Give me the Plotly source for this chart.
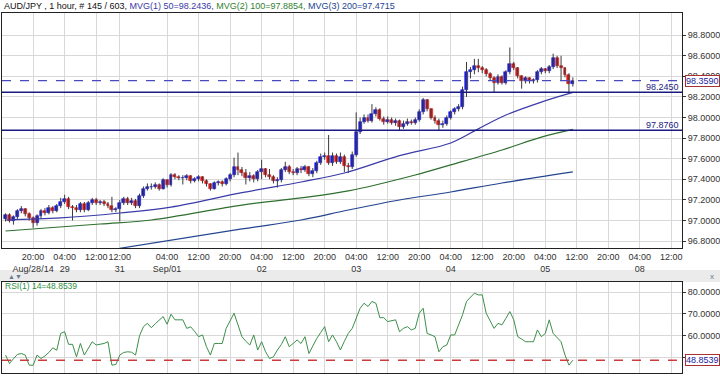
import plotly.graph_objects as go

# ---------------- data ----------------
bar_index = list(range(145))

opens = [
97.01, 97.05, 97.00, 97.03, 97.09, 97.11, 97.06, 97.02, 96.98, 97.04,
97.09, 97.07, 97.12, 97.09, 97.14, 97.18, 97.21, 97.13, 97.12, 97.10,
97.16, 97.10, 97.17, 97.20, 97.17, 97.18, 97.16, 97.14, 97.10, 97.11,
97.17, 97.21, 97.17, 97.19, 97.14, 97.24, 97.31, 97.33, 97.33, 97.34,
97.31, 97.39, 97.34, 97.44, 97.42, 97.41, 97.41, 97.43, 97.38, 97.40,
97.42, 97.38, 97.35, 97.31, 97.36, 97.37, 97.35, 97.40, 97.44, 97.52,
97.49, 97.46, 97.41, 97.43, 97.40, 97.47, 97.50, 97.44, 97.42, 97.38,
97.39, 97.49, 97.52, 97.47, 97.46, 97.50, 97.49, 97.52, 97.45, 97.48,
97.56, 97.62, 97.63, 97.56, 97.63, 97.57, 97.62, 97.53, 97.52, 97.64,
97.86, 97.96, 98.00, 97.97, 98.03, 98.07, 97.99, 97.96, 97.98, 97.95,
97.97, 97.91, 97.94, 97.96, 97.95, 97.98, 98.05, 98.17, 98.08, 98.00,
97.97, 97.93, 97.94, 98.00, 98.05, 98.08, 98.10, 98.27, 98.44, 98.46,
98.50, 98.48, 98.46, 98.42, 98.38, 98.34, 98.39, 98.34, 98.44, 98.52,
98.48, 98.40, 98.35, 98.38, 98.35, 98.36, 98.44, 98.47, 98.45, 98.49,
98.58, 98.50, 98.48, 98.41, 98.33]

closes = [
97.05, 97.00, 97.03, 97.09, 97.11, 97.06, 97.02, 96.98, 97.04, 97.09,
97.07, 97.12, 97.09, 97.14, 97.18, 97.21, 97.13, 97.12, 97.10, 97.16,
97.10, 97.17, 97.20, 97.17, 97.18, 97.16, 97.14, 97.10, 97.11, 97.17,
97.21, 97.17, 97.19, 97.14, 97.24, 97.31, 97.33, 97.33, 97.34, 97.31,
97.39, 97.34, 97.44, 97.42, 97.41, 97.41, 97.43, 97.38, 97.40, 97.42,
97.38, 97.35, 97.31, 97.36, 97.37, 97.35, 97.40, 97.44, 97.52, 97.49,
97.46, 97.41, 97.43, 97.40, 97.47, 97.50, 97.44, 97.42, 97.38, 97.39,
97.49, 97.52, 97.47, 97.46, 97.50, 97.49, 97.52, 97.45, 97.48, 97.56,
97.62, 97.63, 97.56, 97.63, 97.57, 97.62, 97.53, 97.52, 97.64, 97.86,
97.96, 98.00, 97.97, 98.03, 98.07, 97.99, 97.96, 97.98, 97.95, 97.97,
97.91, 97.94, 97.96, 97.95, 97.98, 98.05, 98.17, 98.08, 98.00, 97.97,
97.93, 97.94, 98.00, 98.05, 98.08, 98.10, 98.27, 98.44, 98.46, 98.50,
98.48, 98.46, 98.42, 98.38, 98.34, 98.39, 98.34, 98.44, 98.52, 98.48,
98.40, 98.35, 98.38, 98.35, 98.36, 98.44, 98.47, 98.45, 98.49, 98.58,
98.50, 98.48, 98.41, 98.33, 98.359]

highs = [
97.07, 97.07, 97.05, 97.11, 97.14, 97.12, 97.08, 97.04, 97.06, 97.11,
97.12, 97.15, 97.14, 97.16, 97.22, 97.25, 97.23, 97.15, 97.15, 97.18,
97.18, 97.19, 97.22, 97.22, 97.20, 97.20, 97.18, 97.23, 97.13, 97.20,
97.23, 97.23, 97.22, 97.21, 97.26, 97.33, 97.36, 97.36, 97.37, 97.36,
97.41, 97.40, 97.46, 97.46, 97.44, 97.44, 97.45, 97.44, 97.42, 97.44,
97.43, 97.40, 97.36, 97.38, 97.39, 97.39, 97.42, 97.46, 97.61, 97.66,
97.52, 97.50, 97.47, 97.45, 97.49, 97.59, 97.51, 97.50, 97.44, 97.42,
97.51, 97.57, 97.54, 97.50, 97.52, 97.53, 97.54, 97.53, 97.51, 97.58,
97.65, 97.66, 97.83, 97.66, 97.65, 97.66, 97.64, 97.56, 97.67, 98.05,
98.00, 98.03, 98.03, 98.13, 98.10, 98.09, 98.01, 98.01, 98.00, 97.99,
97.98, 97.97, 97.99, 97.98, 98.00, 98.08, 98.19, 98.18, 98.09, 98.02,
97.99, 97.97, 98.02, 98.07, 98.10, 98.13, 98.30, 98.54, 98.49, 98.57,
98.57, 98.50, 98.48, 98.44, 98.40, 98.42, 98.41, 98.46, 98.68, 98.54,
98.49, 98.41, 98.40, 98.39, 98.38, 98.46, 98.49, 98.48, 98.51, 98.62,
98.60, 98.60, 98.49, 98.43, 98.39]

lows = [
96.99, 96.98, 96.96, 97.01, 97.07, 97.04, 97.00, 96.93, 96.95, 97.02,
97.05, 97.06, 97.07, 97.08, 97.12, 97.16, 97.11, 97.00, 97.08, 97.08,
97.08, 97.09, 97.15, 97.15, 97.15, 97.14, 97.12, 97.08, 97.08, 96.99,
97.15, 97.15, 97.15, 97.12, 97.12, 97.22, 97.29, 97.30, 97.31, 97.29,
97.30, 97.32, 97.33, 97.40, 97.39, 97.35, 97.39, 97.36, 97.37, 97.38,
97.36, 97.33, 97.29, 97.30, 97.34, 97.33, 97.34, 97.38, 97.42, 97.44,
97.43, 97.35, 97.38, 97.37, 97.38, 97.40, 97.42, 97.40, 97.36, 97.32,
97.37, 97.47, 97.45, 97.44, 97.44, 97.46, 97.47, 97.43, 97.42, 97.46,
97.54, 97.59, 97.54, 97.53, 97.55, 97.55, 97.47, 97.46, 97.50, 97.62,
97.84, 97.94, 97.95, 97.95, 98.01, 97.97, 97.93, 97.94, 97.93, 97.92,
97.87, 97.89, 97.92, 97.93, 97.93, 97.96, 98.03, 98.06, 97.98, 97.94,
97.87, 97.90, 97.92, 97.98, 98.03, 98.06, 98.08, 98.20, 98.38, 98.42,
98.44, 98.43, 98.40, 98.36, 98.24, 98.32, 98.32, 98.32, 98.42, 98.46,
98.38, 98.28, 98.33, 98.33, 98.33, 98.34, 98.42, 98.43, 98.43, 98.47,
98.48, 98.36, 98.39, 98.24, 98.30]

# moving averages (read at sparse bar positions)
ma50_idx = [0, 14, 29, 42, 60, 75, 86, 100, 113, 120, 127, 136, 144]
ma50_val = [97.005, 97.025, 97.073, 97.13, 97.27, 97.374, 97.461, 97.63,
            97.753, 97.89, 98.024, 98.15, 98.2436]
ma100_idx = [0, 24, 37, 60, 75, 87, 104, 113, 126, 136, 144]
ma100_val = [96.898, 96.966, 97.005, 97.15, 97.219, 97.287, 97.442, 97.54,
             97.685, 97.81, 97.8854]
ma200_idx = [29, 60, 75, 87, 100, 113, 126, 144]
ma200_val = [96.73, 96.918, 97.005, 97.102, 97.199, 97.277, 97.364, 97.4715]

rsi = [
51.2, 47.3, 49.5, 51.5, 51.9, 51.2, 46.6, 46.5, 51.2, 49.6,
50.8, 52.4, 54.5, 53.4, 61.1, 61.9, 56.1, 56.1, 50.4, 56.5,
51.2, 54.0, 57.3, 55.8, 56.2, 56.5, 57.3, 46.6, 46.9, 51.2,
52.4, 52.7, 52.5, 51.2, 60.0, 64.2, 65.7, 63.7, 65.5, 67.3,
68.8, 65.3, 69.9, 67.3, 67.3, 67.3, 63.4, 64.1, 62.0, 59.6,
60.4, 55.0, 51.2, 56.5, 56.5, 56.5, 63.4, 67.0, 70.3, 65.0,
59.6, 57.5, 55.8, 60.4, 53.5, 57.3, 52.7, 49.6, 50.4, 53.5,
56.0, 59.6, 55.0, 56.5, 58.1, 56.5, 59.6, 51.9, 55.5, 58.8,
61.5, 64.2, 57.3, 60.4, 57.3, 53.5, 57.5, 61.1, 63.4, 68.0,
72.6, 74.9, 73.4, 75.7, 74.9, 68.3, 68.3, 66.5, 67.0, 67.3,
61.9, 63.4, 64.2, 62.7, 63.4, 70.3, 72.6, 61.1, 60.4, 59.6,
52.7, 55.0, 55.8, 60.4, 60.4, 65.0, 69.6, 75.7, 77.5, 79.5,
78.7, 78.7, 70.3, 66.5, 63.4, 65.7, 65.0, 68.0, 71.1, 67.3,
59.6, 58.5, 57.3, 57.3, 57.3, 62.7, 59.6, 61.1, 67.3, 61.1,
59.0, 57.3, 51.2, 46.6, 48.8539]

tick_idx = [7, 15, 23, 29, 41, 49, 57, 65, 73, 81, 89, 97, 105, 113, 121,
            129, 137, 145, 153, 161, 169]
tick_labels = ["20:00<br>Aug/28/14", "04:00<br>29", "12:00", "12:00<br>31",
               "04:00<br>Sep/01", "12:00", "20:00", "04:00<br>02", "12:00",
               "20:00", "04:00<br>03", "12:00", "20:00", "04:00<br>04", "12:00",
               "20:00", "04:00<br>05", "12:00", "20:00", "04:00<br>08", "12:00"]

price_ticks = [96.8, 97.0, 97.2, 97.4, 97.6, 97.8, 98.0, 98.2, 98.4, 98.6, 98.8]
rsi_ticks = [50, 60, 70, 80]

last_price = 98.359
support_levels = [98.245, 97.876]
last_rsi = 48.8539

# ---------------- styling ----------------
W, H = 720, 376
FONT = "Liberation Sans, Arial, sans-serif"
UP, DOWN = "#1c1cd8", "#d81c1c"
GRID = "#d8d8d8"
xdom = [2 / W, 682 / W]
main_dom = [1 - 248 / H, 1 - 13 / H]
rsi_dom = [1 - 373 / H, 1 - 282 / H]
xrange_ = [-0.9, 171.7]

fig = go.Figure()

# wicks
wx, wy = [], []
for i, h, l in zip(bar_index, highs, lows):
    wx += [i, i, None]
    wy += [l, h, None]
fig.add_trace(go.Scatter(x=wx, y=wy, mode="lines", line=dict(color="#3a3a3a", width=1),
                         hoverinfo="skip", showlegend=False, xaxis="x", yaxis="y"))

# bodies
body_col = [UP if c >= o else DOWN for o, c in zip(opens, closes)]
fig.add_trace(go.Bar(x=bar_index, y=[abs(c - o) for o, c in zip(opens, closes)],
                     base=[min(o, c) for o, c in zip(opens, closes)], width=0.75,
                     marker=dict(color=body_col, line=dict(color=body_col, width=0.6)),
                     showlegend=False, xaxis="x", yaxis="y"))

fig.add_trace(go.Scatter(x=ma50_idx, y=ma50_val, mode="lines", line=dict(color="#3a3aa8", width=1.2, shape="spline"),
                         showlegend=False))
fig.add_trace(go.Scatter(x=ma100_idx, y=ma100_val, mode="lines", line=dict(color="#2f6f2f", width=1.2, shape="spline"),
                         showlegend=False))
fig.add_trace(go.Scatter(x=ma200_idx, y=ma200_val, mode="lines", line=dict(color="#23448f", width=1.2, shape="spline"),
                         showlegend=False))

# RSI
fig.add_trace(go.Scatter(x=bar_index, y=rsi, mode="lines", line=dict(color="#3d8f4a", width=1),
                         showlegend=False, xaxis="x2", yaxis="y2"))

shapes = []
shapes.append(dict(type="rect", xref="paper", yref="paper", x0=0, x1=1,
                   y0=1 - 282 / H, y1=1 - 270 / H, fillcolor="#ebebeb", line=dict(width=0), layer="below"))
for lv in support_levels:
    shapes.append(dict(type="line", xref="x domain", yref="y", x0=0, x1=1, y0=lv, y1=lv,
                       line=dict(color="#1a1a80", width=1.5)))
shapes.append(dict(type="line", xref="x domain", yref="y", x0=0, x1=1, y0=last_price, y1=last_price,
                   line=dict(color="#4a4ac0", width=1.3, dash="dash")))
shapes.append(dict(type="line", xref="x2 domain", yref="y2", x0=0, x1=1, y0=last_rsi, y1=last_rsi,
                   line=dict(color="#cc3c3c", width=1.5, dash="dash")))

ann = []
title_html = ('<span style="color:#111">AUD/JPY , 1 hour, # 145 / 603, </span>'
              '<span style="color:#3a3aa8">MVG(1) 50=98.2436, </span>'
              '<span style="color:#2f7f2f">MVG(2) 100=97.8854, </span>'
              '<span style="color:#23448f">MVG(3) 200=97.4715</span>')
ann.append(dict(xref="paper", yref="paper", x=2 / W, y=1 - 6 / H, xanchor="left", yanchor="middle",
                text=title_html, showarrow=False, font=dict(size=9, family=FONT)))
for lv in support_levels:
    ann.append(dict(xref="paper", yref="y", x=681 / W, y=lv, xanchor="right", yanchor="bottom",
                    text=f"{lv:.4f}", showarrow=False, font=dict(size=9, family=FONT, color="#1a1a80"),
                    yshift=-2))
ann.append(dict(xref="paper", yref="y", x=685 / W, y=last_price, xanchor="left", yanchor="middle",
                text=f"{last_price:.4f}", showarrow=False, bgcolor="white", bordercolor="#a83030",
                borderwidth=1, borderpad=0, font=dict(size=9, family=FONT, color="#1a1aa0")))
ann.append(dict(xref="paper", yref="y2", x=685 / W, y=last_rsi, xanchor="left", yanchor="middle",
                text=f"{last_rsi:.4f}", showarrow=False, bgcolor="white", bordercolor="#a83030",
                borderwidth=1, borderpad=0, font=dict(size=9, family=FONT, color="#1a1aa0")))
ann.append(dict(xref="paper", yref="paper", x=3 / W, y=1 - 285.5 / H, xanchor="left", yanchor="middle",
                text=f"RSI(1) 14={last_rsi:.4f}", showarrow=False,
                font=dict(size=8.5, family=FONT, color="#2f8f3f")))
ann.append(dict(xref="paper", yref="paper", x=6 / W, y=1 - 276 / H, xanchor="left", yanchor="middle",
                text="▲▼", showarrow=False, font=dict(size=7, family=FONT, color="#6a7a96")))
ann.append(dict(xref="paper", yref="paper", x=716 / W, y=1 - 276 / H, xanchor="right", yanchor="middle",
                text="x", showarrow=False, font=dict(size=8, family=FONT, color="#6a7a96")))

axis_common = dict(showline=True, linecolor="#222", linewidth=1, mirror=True, zeroline=False,
                   gridcolor=GRID, gridwidth=1, automargin=False)

fig.update_layout(
    width=W, height=H, margin=dict(l=0, r=0, t=0, b=0, autoexpand=False),
    paper_bgcolor="white", plot_bgcolor="white", showlegend=False,
    font=dict(family=FONT, size=9, color="#333"),
    shapes=shapes, annotations=ann, bargap=0,
    xaxis=dict(domain=xdom, range=xrange_, anchor="y", tickmode="array", tickvals=tick_idx,
               ticktext=tick_labels, ticks="", tickangle=0, tickfont=dict(size=9, color="#333"),
               showgrid=True, **axis_common),
    yaxis=dict(domain=main_dom, range=[96.733, 99.015], anchor="x", side="right", tickmode="array",
               tickvals=price_ticks, ticktext=[f"{v:.4f}" for v in price_ticks], ticks="outside",
               ticklen=3, tickcolor="#333", tickfont=dict(size=9, color="#333"), showgrid=True,
               **axis_common),
    xaxis2=dict(domain=xdom, range=xrange_, anchor="y2", tickmode="array", tickvals=tick_idx,
                showticklabels=False, ticks="", showgrid=True, **axis_common),
    yaxis2=dict(domain=rsi_dom, range=[43.0, 84.6], anchor="x2", side="right", tickmode="array",
                tickvals=rsi_ticks, ticktext=["" if v == 50 else f"{v:.4f}" for v in rsi_ticks],
                ticks="outside", ticklen=3, tickcolor="#333", tickfont=dict(size=9, color="#333"),
                showgrid=True, **axis_common),
)

fig.write_html("out.html", config={"displayModeBar": False},
               post_script="document.body.style.margin='0';document.body.style.overflow='hidden';")
